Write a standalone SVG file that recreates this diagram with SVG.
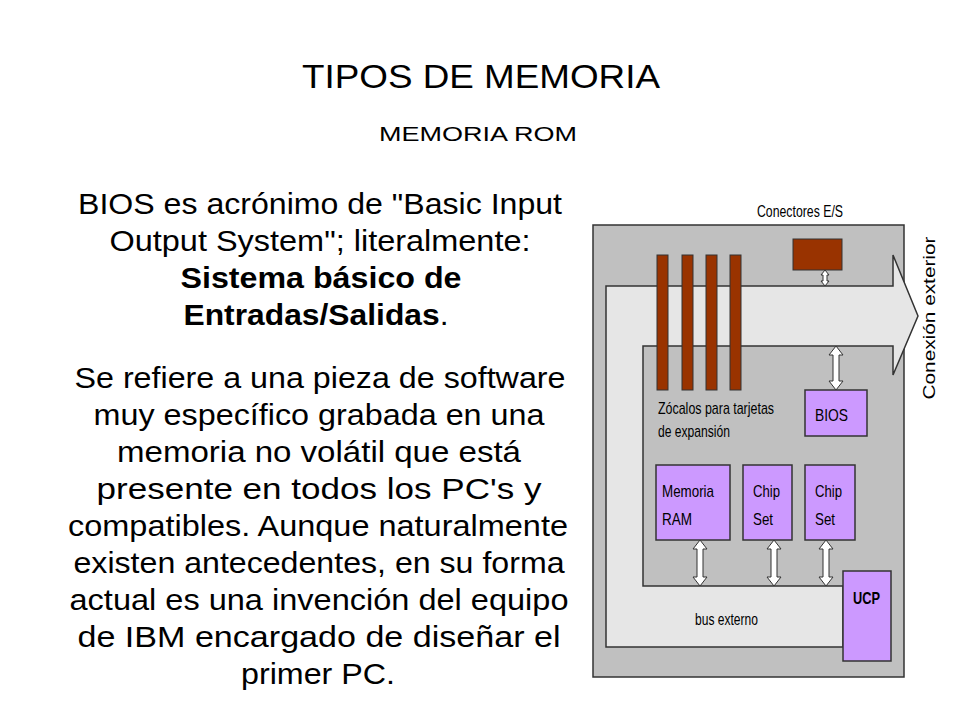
<svg xmlns="http://www.w3.org/2000/svg" width="960" height="720" viewBox="0 0 960 720">
<defs>
<style>
.t{font-family:"Liberation Sans",Arial,sans-serif;fill:#000}
.p{font-size:29px;text-anchor:middle}
.d{font-family:"Liberation Sans",Arial,sans-serif;font-size:17px;fill:#000}
.slot{fill:#993300;stroke:#333;stroke-width:1}
.chip{fill:#cc99ff;stroke:#333;stroke-width:1.5}
.arr{fill:#fff;stroke:#333;stroke-width:1}
</style>
</defs>
<rect width="960" height="720" fill="#fff"/>
<text class="t" x="481" y="88" font-size="34" text-anchor="middle" textLength="358" lengthAdjust="spacingAndGlyphs">TIPOS DE MEMORIA</text>
<text class="t" x="478" y="141" font-size="21" text-anchor="middle" textLength="198" lengthAdjust="spacingAndGlyphs">MEMORIA ROM</text>
<g id="text" lengthAdjust="spacingAndGlyphs">
<text class="t p" x="320" y="214" textLength="484" lengthAdjust="spacingAndGlyphs">BIOS es acrónimo de "Basic Input</text>
<text class="t p" x="320" y="251" textLength="421" lengthAdjust="spacingAndGlyphs">Output System"; literalmente:</text>
<text class="t p" x="321" y="288" font-weight="bold" textLength="281" lengthAdjust="spacingAndGlyphs">Sistema básico de</text>
<text class="t p" x="316" y="325" textLength="265" lengthAdjust="spacingAndGlyphs"><tspan font-weight="bold">Entradas/Salidas</tspan>.</text>
<text class="t p" x="320" y="388" textLength="491" lengthAdjust="spacingAndGlyphs">Se refiere a una pieza de software</text>
<text class="t p" x="319" y="425" textLength="451" lengthAdjust="spacingAndGlyphs">muy específico grabada en una</text>
<text class="t p" x="319" y="462" textLength="404" lengthAdjust="spacingAndGlyphs">memoria no volátil que está</text>
<text class="t p" x="319" y="499" textLength="445" lengthAdjust="spacingAndGlyphs">presente en todos los PC's y</text>
<text class="t p" x="318" y="536" textLength="500" lengthAdjust="spacingAndGlyphs">compatibles.  Aunque naturalmente</text>
<text class="t p" x="319" y="573" textLength="491" lengthAdjust="spacingAndGlyphs">existen antecedentes, en su forma</text>
<text class="t p" x="319" y="610" textLength="499" lengthAdjust="spacingAndGlyphs">actual es una invención del equipo</text>
<text class="t p" x="319" y="647" textLength="483" lengthAdjust="spacingAndGlyphs">de IBM encargado de diseñar el</text>
<text class="t p" x="318" y="684" textLength="154" lengthAdjust="spacingAndGlyphs">primer PC.</text>
</g>
<g id="board">
<rect x="593" y="225" width="311" height="452" fill="#c0c0c0" stroke="#333" stroke-width="1.5"/>
<path d="M606,286 L893,286 L893,255 L918,316 L893,375 L893,346 L643,346 L643,586 L843,586 L843,647 L606,647 Z" fill="#e6e6e6" stroke="#333" stroke-width="1.5"/>
<text class="d" x="935" y="318" text-anchor="middle" transform="rotate(-90 935 318)" font-size="16" textLength="163" lengthAdjust="spacingAndGlyphs">Conexión exterior</text>
<text class="d" x="800" y="217" text-anchor="middle" textLength="86" lengthAdjust="spacingAndGlyphs">Conectores E/S</text>
</g>
<g id="slots">
<rect class="slot" x="657" y="255" width="11" height="135"/>
<rect class="slot" x="682" y="255" width="11" height="135"/>
<rect class="slot" x="706" y="255" width="11" height="135"/>
<rect class="slot" x="730" y="255" width="11" height="135"/>
<text class="d" x="658" y="414" textLength="116" lengthAdjust="spacingAndGlyphs">Zócalos para tarjetas</text>
<text class="d" x="658" y="437" textLength="72" lengthAdjust="spacingAndGlyphs">de expansión</text>
</g>
<g id="connectorES"><rect class="slot" x="793" y="239" width="49" height="31"/></g>
<g id="bios"><rect class="chip" x="805" y="390" width="62" height="46"/><text class="d" x="815" y="421" textLength="33" lengthAdjust="spacingAndGlyphs">BIOS</text></g>
<g id="ram"><rect class="chip" x="656" y="465" width="74" height="75"/><text class="d" x="662" y="497" textLength="52" lengthAdjust="spacingAndGlyphs">Memoria</text><text class="d" x="662" y="525" textLength="30" lengthAdjust="spacingAndGlyphs">RAM</text></g>
<g id="chipset1"><rect class="chip" x="743" y="465" width="49" height="75"/><text class="d" x="753" y="497" textLength="27" lengthAdjust="spacingAndGlyphs">Chip</text><text class="d" x="753" y="525" textLength="20" lengthAdjust="spacingAndGlyphs">Set</text></g>
<g id="chipset2"><rect class="chip" x="805" y="465" width="50" height="75"/><text class="d" x="815" y="497" textLength="27" lengthAdjust="spacingAndGlyphs">Chip</text><text class="d" x="815" y="525" textLength="20" lengthAdjust="spacingAndGlyphs">Set</text></g>
<g id="ucp"><rect class="chip" x="843" y="571" width="48" height="90"/><text class="d" x="853" y="604" font-weight="bold" font-size="18" textLength="27" lengthAdjust="spacingAndGlyphs">UCP</text></g>
<text class="d" x="695" y="625" textLength="63" lengthAdjust="spacingAndGlyphs">bus externo</text>
<g id="connectors">
<path class="arr" d="M825,270 l-4,5 h2 v6 h-2 l4,5 l4,-5 h-2 v-6 h2 Z"/>
<path class="arr" d="M836,346 l-7,9 h4 v26 h-4 l7,9 l7,-9 h-4 v-26 h4 Z"/>
<path class="arr" d="M700,540 l-7,9 h4 v28 h-4 l7,9 l7,-9 h-4 v-28 h4 Z"/>
<path class="arr" d="M774,540 l-7,9 h4 v28 h-4 l7,9 l7,-9 h-4 v-28 h4 Z"/>
<path class="arr" d="M826,540 l-7,9 h4 v28 h-4 l7,9 l7,-9 h-4 v-28 h4 Z"/>
</g>
</svg>
